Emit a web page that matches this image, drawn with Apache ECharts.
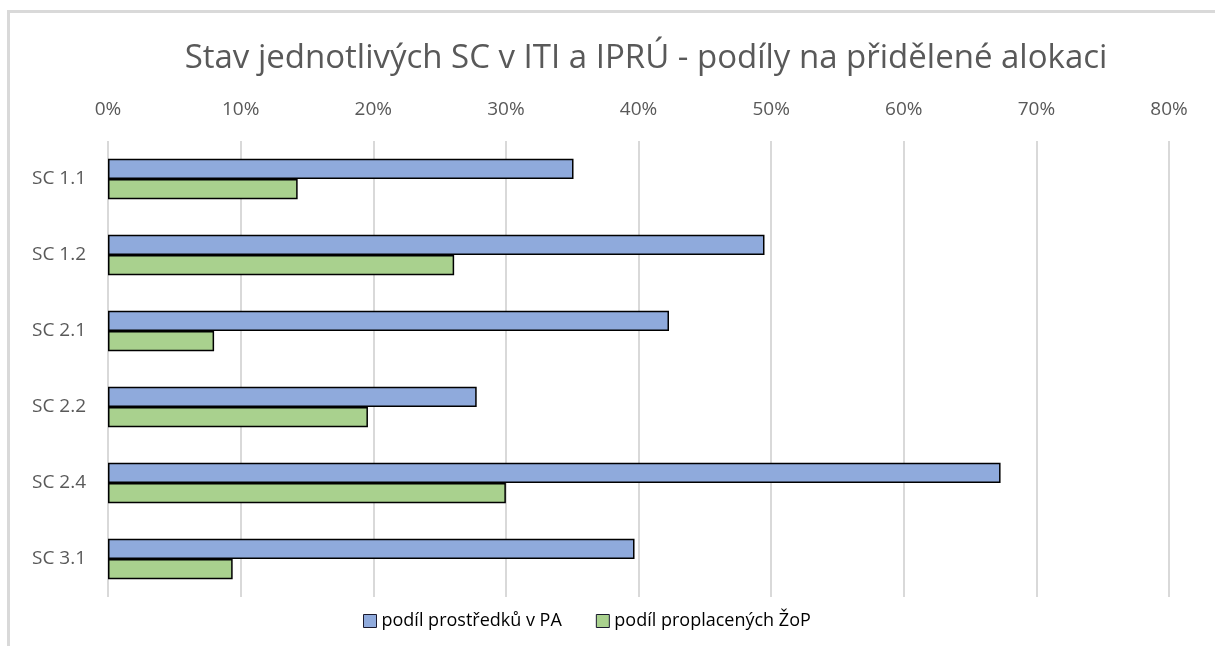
<!DOCTYPE html>
<html>
<head>
<meta charset="utf-8">
<script src="https://cdn.jsdelivr.net/npm/echarts@6/dist/echarts.min.js"></script>
<style>
  html, body { margin: 0; padding: 0; background: #fff; }
  #chart { width: 1215px; height: 646px; }
</style>
</head>
<body>
<div id="chart"></div>
<script>
// kategorie (shora dolů)
const categories = ['SC 1.1', 'SC 1.2', 'SC 2.1', 'SC 2.2', 'SC 2.4', 'SC 3.1']
// podíly v %
const podilPA = [35.1, 49.5, 42.3, 27.8, 67.3, 39.7]
const podilZoP = [14.3, 26.1, 8.0, 19.6, 30.0, 9.4]
const seriesNames = ['podíl prostředků v PA', 'podíl proplacených ŽoP']

const fontFam = 'Open Sans, Noto Sans, sans-serif'
const chart = echarts.init(document.getElementById('chart'))

chart.setOption({
  animation: false,
  color: ['#8FAADC', '#A9D18E'],
  title: {
    text: 'Stav jednotlivých SC v ITI a IPRÚ - podíly na přidělené alokaci',
    left: 641,
    textAlign: 'center',
    top: 37,
    textStyle: { fontFamily: fontFam, fontWeight: 'normal', fontSize: 33, color: '#595959' }
  },
  graphic: [{
    type: 'rect',
    shape: { x: 8.5, y: 11.5, width: 1300, height: 700 },
    style: { fill: 'none', stroke: '#d9d9d9', lineWidth: 3 },
    silent: true
  }],
  legend: {
    data: seriesNames,
    bottom: 11,
    left: 358,
    itemWidth: 13,
    itemHeight: 13,
    itemGap: 34,
    icon: 'rect',
    itemStyle: { borderColor: '#1a1a2e', borderWidth: 1 },
    textStyle: { fontFamily: fontFam, fontSize: 18, color: '#000' }
  },
  grid: { left: 108, right: 46, top: 141, bottom: 49 },
  xAxis: {
    type: 'value',
    position: 'top',
    min: 0,
    max: 80,
    interval: 10,
    axisLine: { show: false },
    axisTick: { show: false },
    axisLabel: {
      formatter: '{value}%',
      fontFamily: fontFam,
      fontSize: 19,
      color: '#595959',
      margin: 22
    },
    splitLine: { lineStyle: { color: '#d9d9d9', width: 2 } }
  },
  yAxis: {
    type: 'category',
    inverse: true,
    data: categories,
    axisLine: { show: false },
    axisTick: { show: false },
    axisLabel: { fontFamily: fontFam, fontSize: 19, color: '#595959', margin: 22 }
  },
  series: [{
    name: seriesNames[0],
    type: 'bar',
    data: podilPA,
    barGap: '0%',
    barCategoryGap: '47%',
    itemStyle: { borderColor: '#000', borderWidth: 1.5 }
  }, {
    name: seriesNames[1],
    type: 'bar',
    data: podilZoP,
    itemStyle: { borderColor: '#000', borderWidth: 1.5 }
  }]
})
</script>
</body>
</html>
